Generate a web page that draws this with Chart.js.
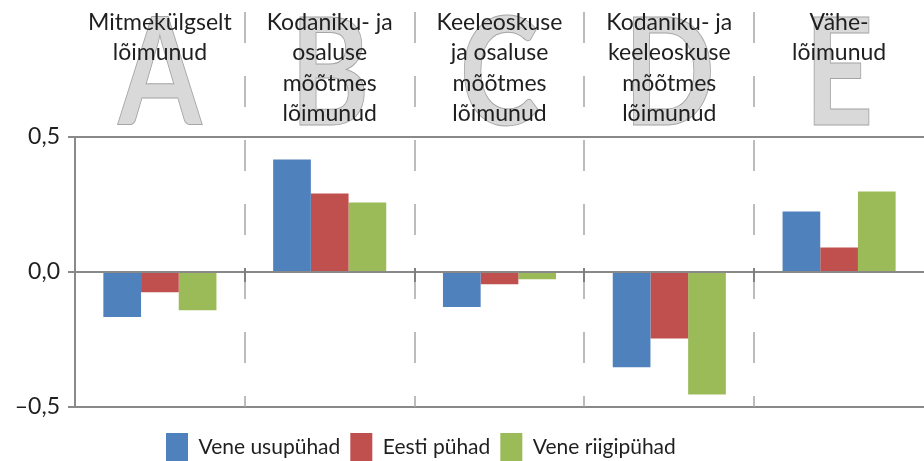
<!DOCTYPE html>
<html lang="et">
<head>
<meta charset="utf-8">
<title>Lõimumisrühmad ja pühad</title>
<script src="https://cdn.jsdelivr.net/npm/chart.js@4.4.1/dist/chart.umd.min.js"></script>
<style>
  html, body { margin: 0; padding: 0; background: #fff; overflow: hidden; }
  #wrap { width: 924px; height: 461px; overflow: hidden; }
</style>
</head>
<body>
<div id="wrap"><canvas id="chart" width="924" height="471"></canvas></div>
<script>
const groupLabels = [
  ["Mitmekülgselt", "lõimunud"],
  ["Kodaniku- ja", "osaluse", "mõõtmes", "lõimunud"],
  ["Keeleoskuse", "ja osaluse", "mõõtmes", "lõimunud"],
  ["Kodaniku- ja", "keeleoskuse", "mõõtmes", "lõimunud"],
  ["Vähe-", "lõimunud"]
];
const groupLetters = ["A", "B", "C", "D", "E"];
const seriesNames = ["Vene usupühad", "Eesti pühad", "Vene riigipühad"];
const veneUsupuhad = [-0.167, 0.417, -0.130, -0.353, 0.224];
const eestiPuhad = [-0.075, 0.291, -0.045, -0.246, 0.091];
const veneRiigipuhad = [-0.142, 0.257, -0.027, -0.454, 0.298];
const yTicks = [-0.5, 0, 0.5];
const yTickLabels = ["–0,5", "0,0", "0,5"];
const colors = ["#4f81bd", "#c0504d", "#9bbb59"];

const textColor = "#1f1f1f";
const axisColor = "#898989";

// big grey letters behind the headers, dashed group separators
const backdrop = {
    id: "backdrop",
    beforeDraw(chart) {
        const ctx = chart.ctx;
        const x = chart.scales.x;
        ctx.save();
        ctx.font = "bold 150px Lato";
        ctx.textAlign = "center";
        ctx.textBaseline = "alphabetic";
        ctx.fillStyle = "#d9d9d9";
        ctx.strokeStyle = "#a6a6a6";
        ctx.lineWidth = 1;
        groupLetters.forEach((letter, i) => {
            ctx.save();
            ctx.translate(x.getPixelForValue(i), 125);
            ctx.scale(0.8, 1);
            ctx.fillText(letter, 0, 0);
            ctx.strokeText(letter, 0, 0);
            ctx.restore();
        });
        ctx.restore();
    },
    beforeDatasetsDraw(chart) {
        const { ctx, chartArea } = chart;
        const x = chart.scales.x;
        const zero = chart.scales.y.getPixelForValue(0);
        ctx.save();
        for (let i = 0; i < groupLetters.length - 1; i++) {
            const px = Math.round((x.getPixelForValue(i) + x.getPixelForValue(i + 1)) / 2);
            ctx.strokeStyle = "#a6a6a6";
            ctx.lineWidth = 1.5;
            ctx.setLineDash([31, 33]);
            ctx.beginPath();
            ctx.moveTo(px, 12);
            ctx.lineTo(px, chartArea.bottom);
            ctx.stroke();
            ctx.setLineDash([]);
            ctx.strokeStyle = "#6e6e6e";
            ctx.beginPath();
            ctx.moveTo(px, zero - 4);
            ctx.lineTo(px, zero + 10);
            ctx.stroke();
        }
        ctx.restore();
    },
    afterLayout(chart) {
        // legend sits left of centre in the original
        chart.legend.left = 156;
    }
};

function drawChart() {
    new Chart(document.getElementById("chart"), {
        type: "bar",
        data: {
            labels: groupLabels,
            datasets: [
                { label: seriesNames[0], data: veneUsupuhad, backgroundColor: colors[0] },
                { label: seriesNames[1], data: eestiPuhad, backgroundColor: colors[1] },
                { label: seriesNames[2], data: veneRiigipuhad, backgroundColor: colors[2] }
            ]
        },
        options: {
            responsive: false,
            animation: false,
            devicePixelRatio: 1,
            layout: { padding: 0 },
            datasets: { bar: { categoryPercentage: 0.666, barPercentage: 1, borderWidth: 0 } },
            plugins: {
                legend: {
                    position: "bottom",
                    align: "start",
                    labels: {
                        boxWidth: 22,
                        boxHeight: 28,
                        padding: 10,
                        color: textColor,
                        font: { family: "Lato", size: 21 }
                    }
                },
                tooltip: { enabled: false }
            },
            scales: {
                x: {
                    position: "top",
                    grid: { display: false, drawTicks: false },
                    border: { display: false },
                    afterFit(scale) { scale.height = 137; },
                    ticks: {
                        crossAlign: "far",
                        padding: 8,
                        color: textColor,
                        maxRotation: 0,
                        autoSkip: false,
                        font: { family: "Lato", size: 23, lineHeight: "30.5px" }
                    }
                },
                gap: {
                    type: "category",
                    position: "bottom",
                    grid: { display: false, drawTicks: false },
                    border: { display: false },
                    ticks: { display: false },
                    afterFit(scale) { scale.height = 16; }
                },
                y: {
                    min: -0.5,
                    max: 0.5,
                    afterBuildTicks(scale) { scale.ticks = yTicks.map(v => ({ value: v })); },
                    afterFit(scale) { scale.width = 75; },
                    ticks: {
                        callback: (value, index) => yTickLabels[index],
                        padding: 8,
                        color: textColor,
                        font: { family: "Lato", size: 23 }
                    },
                    grid: { color: axisColor, lineWidth: 2, tickLength: 7 },
                    border: { color: axisColor, width: 2 }
                }
            }
        },
        plugins: [backdrop]
    });
}

Promise.all([
    document.fonts.load("22px Lato"),
    document.fonts.load("bold 150px Lato")
]).then(drawChart, drawChart);
</script>
</body>
</html>
